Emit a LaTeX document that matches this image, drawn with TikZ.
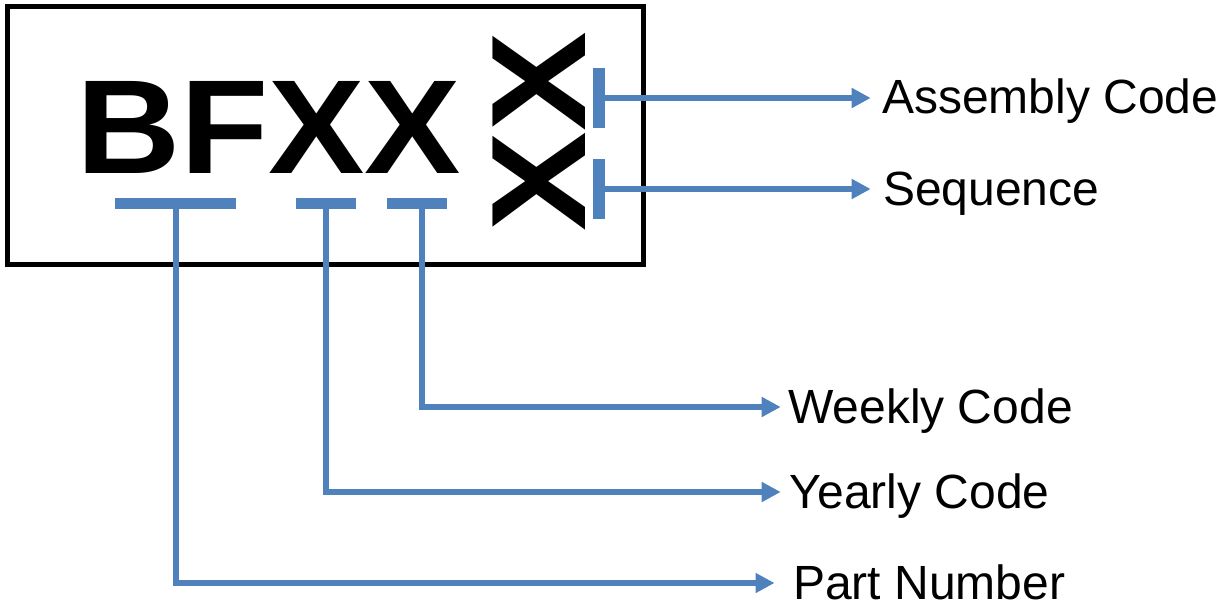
\documentclass[tikz,border=0pt]{standalone}
\usepackage{fontspec}
\setmainfont{Liberation Sans}
\usetikzlibrary{arrows.meta}
\definecolor{codeblue}{HTML}{4F81BD}
\begin{document}
\begin{tikzpicture}[x=1pt,y=-1pt,
  hbar/.style={fill=codeblue,draw=none,inner sep=0pt,minimum height=11pt},
  vbar/.style={fill=codeblue,draw=none,inner sep=0pt,minimum width=12pt,minimum height=60pt},
  conn/.style={draw=codeblue,line width=6pt,-{Triangle[length=19pt,width=19pt]}},
  lbl/.style={inner sep=0pt,anchor=west,text height=32pt,text depth=0pt,
    font=\fontsize{48}{52}\selectfont}]
\useasboundingbox (0,0) rectangle (1226,607);
\draw[line width=5pt] (7.7,6.7) rectangle (643.3,264);
% code text
\node[inner sep=0pt,anchor=south west] (code) at (75.8,174)
  {\resizebox{385pt}{92pt}{\bfseries BFXX}};
\node[inner sep=0pt] (rotxx) at (538.8,131.5)
  {\rotatebox{90}{\resizebox{199pt}{92.5pt}{\bfseries XX}}};
% bars
\node[hbar,minimum width=121pt] (pnbar) at (175.5,203) {};
\node[hbar,minimum width=60pt] (yrbar) at (326,203) {};
\node[hbar,minimum width=60pt] (wkbar) at (417,203) {};
\node[vbar] (asbar) at (599,98) {};
\node[vbar] (sqbar) at (599,189) {};
% labels
\node[lbl] (lblA) at (882,98) {Assembly Code};
\node[lbl] (lblS) at (883,189) {Sequence};
\node[lbl] (lblW) at (788,407) {Weekly Code};
\node[lbl] (lblY) at (789.5,492) {Yearly Code};
\node[lbl] (lblP) at (793,583) {Part Number};
% connectors
\draw[conn] (asbar.center) -- ([xshift=-11.3pt]lblA.west);
\draw[conn] (sqbar.center) -- ([xshift=-12.3pt]lblS.west);
\draw[conn] ([xshift=5pt]wkbar.center) |- ([xshift=-7.3pt]lblW.west);
\draw[conn] (yrbar.center) |- ([xshift=-8.8pt]lblY.west);
\draw[conn] (pnbar.center) |- ([xshift=-18.5pt]lblP.west);
\end{tikzpicture}
\end{document}
